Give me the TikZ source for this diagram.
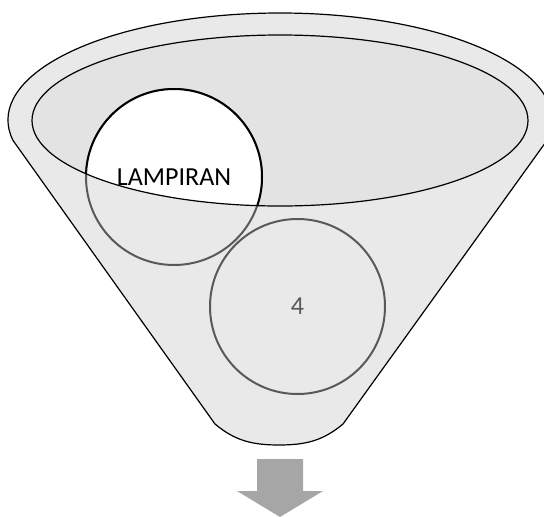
\documentclass[tikz,border=0pt]{standalone}
\usepackage{fontspec}
\setmainfont{Carlito}
\begin{document}
\begin{tikzpicture}[x=1pt,y=1pt,
  funnelbody/.style={fill=funnelgray, draw=black, line width=1.2pt, line join=round},
  innerrim/.style={draw=black, line width=1.2pt},
  ballgray/.style={draw=ballline, line width=2pt},
  ballblack/.style={draw=black, line width=2pt},
  lbl/.style={font=\fontsize{26}{30}\selectfont, inner sep=0pt},
  downarrow/.style={fill=arrowgray, draw=none}]
\definecolor{funnelgray}{RGB}{233,233,233}
\definecolor{innergray}{RGB}{227,227,227}
\definecolor{ballline}{RGB}{89,89,89}
\definecolor{arrowgray}{RGB}{166,166,166}
\useasboundingbox (0,0) rectangle (544,-517);

% named points
\coordinate (bl) at (215,-424);
\coordinate (br) at (343,-424);
\coordinate (bot) at (279,-445);
\coordinate (ic) at (280,-120.5);
\coordinate (c1) at (174,-177);
\coordinate (c4) at (297.5,-306.5);

% funnel body
\draw[funnelbody] (bl) -- (280+272*cos 191, -120+107*sin 191)
  arc[start angle=191, end angle=-11, x radius=272, y radius=107]
  -- (br) to[out=-140,in=0] (bot) to[out=180,in=-40] (bl) -- cycle;

% inner ellipse fill
\fill[innergray] (ic) ellipse[x radius=248, y radius=85.5];

% ball 1: gray full outline, white + black inside the rim
\draw[ballgray] (c1) circle[radius=88];
\begin{scope}
  \clip (ic) ellipse[x radius=248, y radius=85.5];
  \fill[white] (c1) circle[radius=88];
  \draw[ballblack] (c1) circle[radius=88];
\end{scope}

% rim outline
\draw[innerrim] (ic) ellipse[x radius=248, y radius=85.5];

% ball 2
\draw[ballgray] (c4) circle[radius=87.5];

% labels
\node[lbl, text=black] (t1) at (c1) {LAMPIRAN};
\node[lbl, text=ballline] (t4) at (c4) {4};

% arrow
\fill[downarrow] (257,-459) -- (303,-459) -- (303,-491) -- (323,-491)
  -- (280,-517) -- (237,-491) -- (257,-491) -- cycle;
\end{tikzpicture}
\end{document}
